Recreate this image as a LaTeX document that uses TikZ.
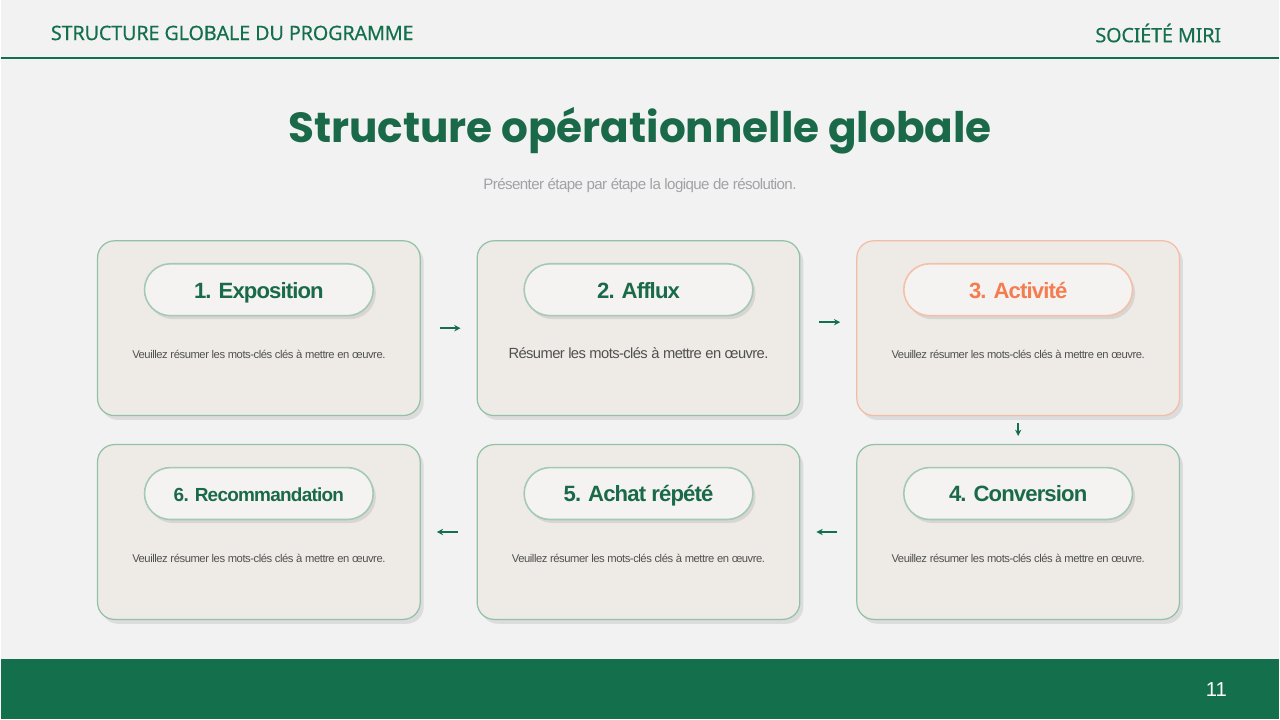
\documentclass[tikz,border=0pt]{standalone}
\usepackage{fontspec}
\setmainfont{Liberation Sans}
\newfontfamily\titlefont{Poppins}
\newfontfamily\labelfont[LetterSpace=-4]{Liberation Sans}
\newfontfamily\headfont[LetterSpace=-1, FakeBold=0.35]{Noto Sans}
\usetikzlibrary{arrows.meta,shadows}

\definecolor{mirigreen}{HTML}{14704C}
\definecolor{titlegreen}{HTML}{1A6A4A}
\definecolor{miriorange}{HTML}{F47D50}
\definecolor{pagebg}{HTML}{F2F2F3}
\definecolor{cardfill}{HTML}{EEEBE7}
\definecolor{cardline}{HTML}{92C1A8}
\definecolor{cardlineor}{HTML}{F3BCA4}
\definecolor{pillfill}{HTML}{F4F3F1}
\definecolor{pillline}{HTML}{A4C9B6}
\definecolor{pilllineor}{HTML}{F4C0A8}
\definecolor{bodygray}{HTML}{505050}
\definecolor{subgray}{HTML}{A2A2A6}

\begin{document}
\begin{tikzpicture}[x=0.02cm, y=-0.02cm]
    % styles
    \tikzset{
        card/.style={rectangle, rounded corners=0.34cm, fill=cardfill, line width=0.7pt,
            minimum width=6.46cm, minimum height=3.5cm,
            drop shadow={shadow xshift=2pt, shadow yshift=-2.5pt, opacity=0.09, fill=black}},
        pill/.style={rectangle, rounded corners=0.52cm, fill=pillfill, line width=0.9pt,
            minimum width=4.58cm, minimum height=1.04cm,
            drop shadow={shadow xshift=1.5pt, shadow yshift=-2pt, opacity=0.09, fill=black}},
        body/.style={text=bodygray, font=\labelfont\fontsize{6.4}{8}\selectfont},
        head/.style={text=mirigreen, inner sep=0pt, font=\headfont\fontsize{11.3}{13}\selectfont},
        flow/.style={draw=mirigreen, line width=0.8pt, -{Stealth[length=3.6pt, width=3.6pt]}},
    }

    % page background, header and footer
    \fill[pagebg] (0,0) rectangle (1280,720);
    \coordinate (hl) at (0,58);
    \coordinate (hr) at (1280,58);
    \draw[mirigreen, line width=0.7pt] (hl) -- (hr);
    \node[head, anchor=west] (head) at (50,33) {STRUCTURE GLOBALE DU PROGRAMME};
    \node[head, anchor=east] (brand) at (1222,33) {SOCIÉTÉ MIRI};
    \fill[mirigreen] (0,660) rectangle (1280,720);
    \node[text=white, font=\fontsize{11.5}{13}\selectfont] (page) at (1217,690) {11};

    % title
    \node[text=titlegreen, font=\titlefont\bfseries\fontsize{24}{28}\selectfont] (title) at (640,131) {Structure opérationnelle globale};
    \node[text=subgray, font=\labelfont\fontsize{8.6}{10}\selectfont] (sub) at (640,186) {Présenter étape par étape la logique de résolution.};

    % cards and pills
    \foreach \i/\x/\y/\bc/\pc/\col/\fs/\lab in {
            1/258.5/328.5/cardline/pillline/titlegreen/12.6/1. Exposition,
            2/638.5/328.5/cardline/pillline/titlegreen/12.6/2. Afflux,
            3/1018.5/328.5/cardlineor/pilllineor/miriorange/12.6/3. Activité,
            4/1018.5/532.5/cardline/pillline/titlegreen/12.6/4. Conversion,
            5/638.5/532.5/cardline/pillline/titlegreen/12.6/5. Achat répété,
            6/258.5/532.5/cardline/pillline/titlegreen/10.8/6. Recommandation} {
        \node[card, draw=\bc] (c\i) at (\x,\y) {};
        \node[pill, draw=\pc] (p\i) at (\x,\y-38.5) {};
        \node[text=\col, text height=0.72em, text depth=0pt,
              font=\labelfont\bfseries\fontsize{\fs}{15}\selectfont] (t\i) at ([yshift=-0.04cm]p\i.center) {\lab};
    }

    % descriptions
    \foreach \i in {1,3,4,5,6} {
        \node[body] (b\i) at ([yshift=-0.53cm]c\i.center) {Veuillez résumer les mots-clés clés à mettre en œuvre.};
    }
    \node[body, font=\labelfont\fontsize{8.4}{10}\selectfont] (b2) at ([yshift=-0.5cm]c2.center) {Résumer les mots-clés à mettre en œuvre.};

    % connectors
    \draw[flow, shorten <=0.38cm, shorten >=0.32cm] (c1) -- (c2);
    \draw[flow, shorten <=0.38cm, shorten >=0.32cm] ([yshift=0.12cm]c2.east) -- ([yshift=0.12cm]c3.west);
    \draw[flow, shorten <=0.14cm, shorten >=0.16cm] (c3) -- (c4);
    \draw[flow, shorten <=0.38cm, shorten >=0.32cm] (c4) -- (c5);
    \draw[flow, shorten <=0.38cm, shorten >=0.32cm] (c5) -- (c6);

    \path[use as bounding box] (0,0) rectangle (1280,720);
\end{tikzpicture}
\end{document}
